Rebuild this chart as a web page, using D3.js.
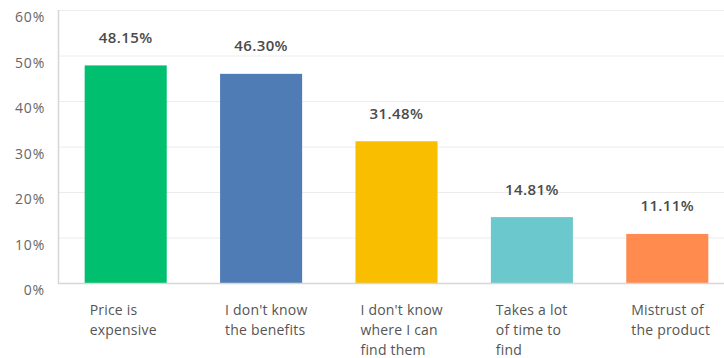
<!DOCTYPE html>
<html>
<head>
<meta charset="utf-8">
<script src="https://cdn.jsdelivr.net/npm/d3@7"></script>
<style>
  html, body { margin: 0; padding: 0; background: #fff; }
  svg { display: block; }
</style>
</head>
<body>
<svg id="chart" width="724" height="358"></svg>
<script>
const categories = ["Price is expensive", "I don't know the benefits", "I don't know where I can find them", "Takes a lot of time to find", "Mistrust of the product"];
const categoryLines = [["Price is", "expensive"], ["I don't know", "the benefits"], ["I don't know", "where I can", "find them"], ["Takes a lot", "of time to", "find"], ["Mistrust of", "the product"]];
const values = [48.15, 46.30, 31.48, 14.81, 11.11];
const valueLabels = ["48.15%", "46.30%", "31.48%", "14.81%", "11.11%"];
const colors = ["#00BF6F", "#507CB6", "#F9BE00", "#6BC8CD", "#FF8B4F"];
const yTicks = [0, 10, 20, 30, 40, 50, 60];

(function() {
const svg = d3.select("#chart");
const mLeft = 58, mRight = 735, mTop = 10, mBottom = 283;
const font = "'Open Sans', sans-serif";

const x = d3.scaleBand().domain(categories).range([mLeft, mRight]).paddingInner(0.394).paddingOuter(0.197);
const y = d3.scaleLinear().domain([0, 60]).range([mBottom, mTop]);

// gridlines
svg.append("g").selectAll("line").data(yTicks.filter(d => d > 0)).join("line")
  .attr("x1", mLeft).attr("x2", 724)
  .attr("y1", d => y(d) + 0.5).attr("y2", d => y(d) + 0.5)
  .attr("stroke", "#ececec").attr("stroke-width", 1);

// tick labels
svg.append("g").selectAll("text").data(yTicks).join("text")
  .attr("x", 45).attr("y", d => y(d) + 12)
  .attr("text-anchor", "end")
  .attr("font-family", font).attr("font-size", 14).attr("letter-spacing", 0.8)
  .attr("fill", "#666")
  .text(d => d + "%");

// bars
svg.append("g").selectAll("rect").data(values).join("rect")
  .attr("x", (d, i) => x(categories[i]))
  .attr("width", x.bandwidth())
  .attr("y", d => y(d) + 1.5)
  .attr("height", d => mBottom - y(d) - 1.5)
  .attr("fill", (d, i) => colors[i]);

// axes lines
svg.append("line").attr("x1", mLeft + 0.5).attr("x2", mLeft + 0.5).attr("y1", mTop).attr("y2", mBottom + 1)
  .attr("stroke", "#d6d6d6").attr("stroke-width", 1.5);
svg.append("line").attr("x1", mLeft).attr("x2", 724).attr("y1", mBottom + 0.5).attr("y2", mBottom + 0.5)
  .attr("stroke", "#d6d6d6").attr("stroke-width", 1.5);

// value labels
svg.append("g").selectAll("text").data(values).join("text")
  .attr("x", (d, i) => x(categories[i]) + x.bandwidth() / 2)
  .attr("y", d => y(d) - 21)
  .attr("text-anchor", "middle")
  .attr("font-family", font).attr("font-size", 15).attr("font-weight", 600).attr("letter-spacing", 0.4)
  .attr("fill", "#4a4a4a")
  .text((d, i) => valueLabels[i]);

// category labels
const cat = svg.append("g").selectAll("text").data(categories).join("text")
  .attr("x", d => x(d) + 5)
  .attr("y", 315)
  .attr("font-family", font).attr("font-size", 14).attr("letter-spacing", 0.2)
  .attr("fill", "#555");
cat.each(function(d, i) {
  d3.select(this).selectAll("tspan").data(categoryLines[i]).join("tspan")
    .attr("x", x(d) + 5)
    .attr("dy", (l, j) => j === 0 ? 0 : 20)
    .text(l => l);
});
})();
</script>
</body>
</html>
